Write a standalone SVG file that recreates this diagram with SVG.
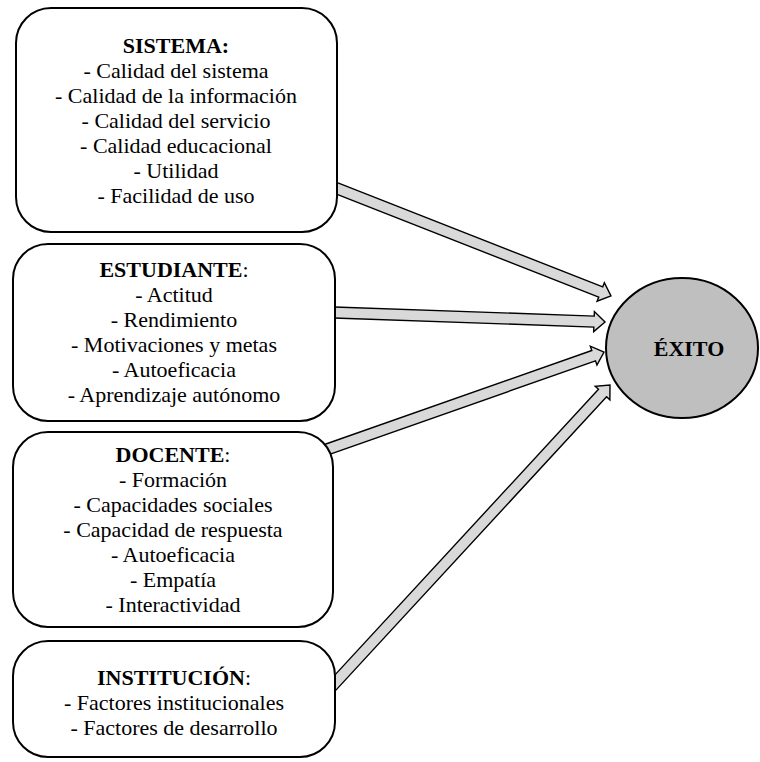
<svg xmlns="http://www.w3.org/2000/svg" width="760" height="762" viewBox="0 0 760 762">
<style>
.box{fill:#ffffff;stroke:#000000;stroke-width:2}
.arr{fill:#d9d9d9;stroke:#000000;stroke-width:1.4;stroke-linejoin:miter}
.t{font-family:"Liberation Serif","Times New Roman",serif !important;font-size:22px;fill:#000000;text-anchor:middle}
.b{font-weight:bold}
</style>
<rect width="760" height="762" fill="#ffffff"/>
<g id="connectors">
<polygon class="arr" transform="translate(337,188.5) rotate(21.42)" points="-8,-5.5 283.3,-5.5 283.3,-10 294.3,0 283.3,10 283.3,5.5 -8,5.5"/>
<polygon class="arr" transform="translate(335,312.5) rotate(2.01)" points="-8,-5.5 259.2,-5.5 259.2,-10 270.2,0 259.2,10 259.2,5.5 -8,5.5"/>
<polygon class="arr" transform="translate(331,448) rotate(-19.37)" points="-8,-5.5 278.4,-5.5 278.4,-10 289.4,0 278.4,10 278.4,5.5 -8,5.5"/>
<polygon class="arr" transform="translate(335,683) rotate(-47.3)" points="-8,-5.5 394.5,-5.5 394.5,-10 405.5,0 394.5,10 394.5,5.5 -8,5.5"/>
</g>
<g id="sistema">
<rect class="box" x="16" y="8" width="321" height="224" rx="35" ry="35"/>
<text class="t b" x="176" y="53" style="font-family:'Liberation Serif',serif !important">SISTEMA:</text>
<text class="t" x="176" y="78" style="font-family:'Liberation Serif',serif !important">- Calidad del sistema</text>
<text class="t" x="176" y="103" style="font-family:'Liberation Serif',serif !important">- Calidad de la información</text>
<text class="t" x="176" y="128" style="font-family:'Liberation Serif',serif !important">- Calidad del servicio</text>
<text class="t" x="176" y="153" style="font-family:'Liberation Serif',serif !important">- Calidad educacional</text>
<text class="t" x="176" y="178" style="font-family:'Liberation Serif',serif !important">- Utilidad</text>
<text class="t" x="176" y="203" style="font-family:'Liberation Serif',serif !important">- Facilidad de uso</text>
</g>
<g id="estudiante">
<rect class="box" x="13" y="244" width="322" height="177" rx="35" ry="35"/>
<text class="t" x="174" y="277" style="font-family:'Liberation Serif',serif !important"><tspan class="b">ESTUDIANTE</tspan>:</text>
<text class="t" x="174" y="302" style="font-family:'Liberation Serif',serif !important">- Actitud</text>
<text class="t" x="174" y="327" style="font-family:'Liberation Serif',serif !important">- Rendimiento</text>
<text class="t" x="174" y="352" style="font-family:'Liberation Serif',serif !important">- Motivaciones y metas</text>
<text class="t" x="174" y="377" style="font-family:'Liberation Serif',serif !important">- Autoeficacia</text>
<text class="t" x="174" y="402" style="font-family:'Liberation Serif',serif !important">- Aprendizaje autónomo</text>
</g>
<g id="docente">
<rect class="box" x="13" y="432" width="320" height="195" rx="35" ry="35"/>
<text class="t" x="173" y="462" style="font-family:'Liberation Serif',serif !important"><tspan class="b">DOCENTE</tspan>:</text>
<text class="t" x="173" y="487" style="font-family:'Liberation Serif',serif !important">- Formación</text>
<text class="t" x="173" y="512" style="font-family:'Liberation Serif',serif !important">- Capacidades sociales</text>
<text class="t" x="173" y="537" style="font-family:'Liberation Serif',serif !important">- Capacidad de respuesta</text>
<text class="t" x="173" y="562" style="font-family:'Liberation Serif',serif !important">- Autoeficacia</text>
<text class="t" x="173" y="587" style="font-family:'Liberation Serif',serif !important">- Empatía</text>
<text class="t" x="173" y="612" style="font-family:'Liberation Serif',serif !important">- Interactividad</text>
</g>
<g id="institucion">
<rect class="box" x="13" y="641" width="322" height="116" rx="35" ry="35"/>
<text class="t" x="174" y="685" style="font-family:'Liberation Serif',serif !important"><tspan class="b">INSTITUCIÓN</tspan>:</text>
<text class="t" x="174" y="710" style="font-family:'Liberation Serif',serif !important">- Factores institucionales</text>
<text class="t" x="174" y="735" style="font-family:'Liberation Serif',serif !important">- Factores de desarrollo</text>
</g>
<g id="exito">
<ellipse cx="682" cy="348" rx="76" ry="70" fill="#bfbfbf" stroke="#000000" stroke-width="2"/>
<text class="t b" x="689" y="356" style="font-family:'Liberation Serif',serif !important">ÉXITO</text>
</g>
</svg>
